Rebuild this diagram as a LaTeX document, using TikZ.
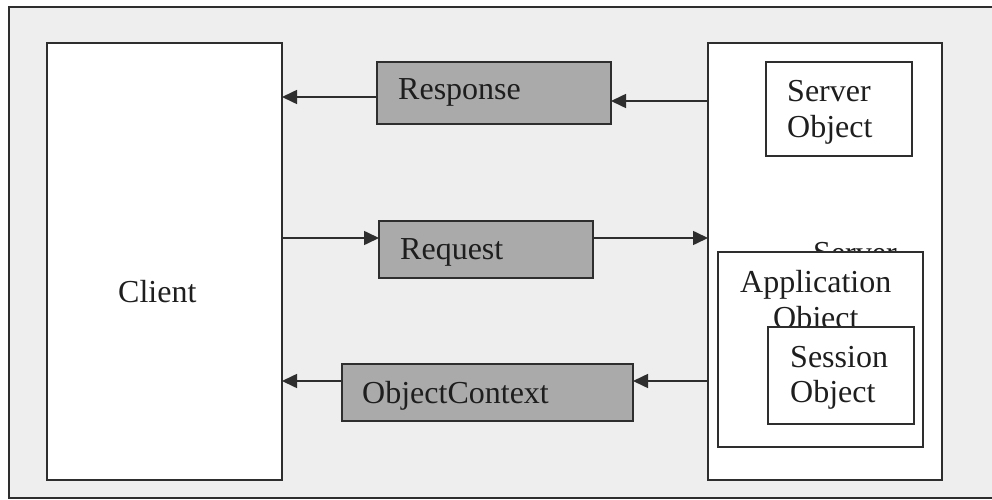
\documentclass[tikz,border=0pt]{standalone}
\usepackage{fontspec}
\setmainfont{Liberation Serif}
\usetikzlibrary{arrows.meta}
\definecolor{ink}{HTML}{2E2E2E}
\definecolor{paper}{HTML}{EEEEEE}
\definecolor{msgfill}{HTML}{AAAAAA}
\definecolor{txt}{HTML}{1E1E1E}
\tikzset{
  box/.style={draw=ink, line width=1.6pt, fill=white, inner sep=0pt, outer sep=0pt},
  msg/.style={box, fill=msgfill},
  lbl/.style={anchor=base west, inner sep=0pt, font=\fontsize{32}{36}\selectfont, text=txt},
  flow/.style={draw=ink, line width=1.6pt, -{Triangle[length=15pt,width=14pt]}},
}
\begin{document}
\begin{tikzpicture}[x=1pt,y=-1pt]
\useasboundingbox (0,0) rectangle (992,500);
\fill[white] (0,0) rectangle (992,500);
% page frame
\draw[ink, line width=1.4pt, fill=paper] (9,7) rectangle (1000,498);

% client side
\node[box, minimum width=235pt, minimum height=437pt] (client) at (164.5,261.5) {};
\node[lbl] (clientlbl) at (118,302) {Client};

% server side
\node[box, minimum width=234pt, minimum height=437pt] (server) at (825,261.5) {};
\node[box, minimum width=146pt, minimum height=94pt] (srvobj) at (839,109) {};
\node[lbl] (srvobj1) at (787,102) {Server};
\node[lbl] (srvobj2) at (787,137) {Object};
\node[lbl] (serverlbl) at (813,263) {Server};
\node[box, minimum width=205pt, minimum height=195pt] (app) at (820.5,349.5) {};
\node[lbl] (app1) at (740,292) {Application};
\node[lbl] (app2) at (773,328) {Object};
\node[box, minimum width=146pt, minimum height=97pt] (session) at (841,375.5) {};
\node[lbl] (sess1) at (790,367) {Session};
\node[lbl] (sess2) at (790,402) {Object};

% messages
\node[msg, minimum width=234pt, minimum height=62pt] (response) at (494,93) {};
\node[lbl] (resplbl) at (398,100) {Response};
\node[msg, minimum width=214pt, minimum height=57pt] (request) at (486,249.5) {};
\node[lbl] (reqlbl) at (400,259) {Request};
\node[msg, minimum width=291pt, minimum height=57pt] (objctx) at (487.5,392.5) {};
\node[lbl] (ctxlbl) at (362,403) {ObjectContext};

% connector levels
\coordinate (yrespl) at (0,97);
\coordinate (yrespr) at (0,101);
\coordinate (yreq) at (0,238);
\coordinate (yctx) at (0,381);

\draw[flow] (server.west |- yrespr) -- (response.east |- yrespr);
\draw[flow] (response.west |- yrespl) -- (client.east |- yrespl);
\draw[flow] (client.east |- yreq) -- (request.west |- yreq);
\draw[flow] (request.east |- yreq) -- (server.west |- yreq);
\draw[flow] (server.west |- yctx) -- (objctx.east |- yctx);
\draw[flow] (objctx.west |- yctx) -- (client.east |- yctx);
\end{tikzpicture}
\end{document}
